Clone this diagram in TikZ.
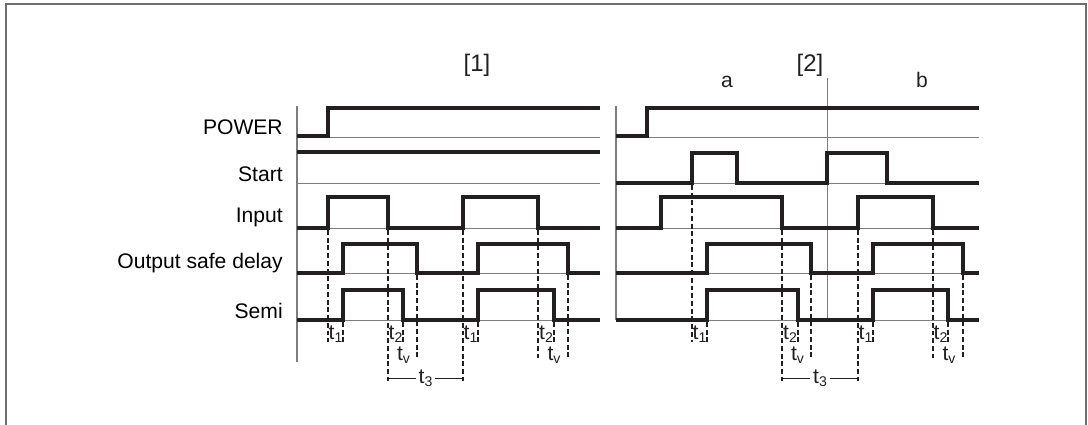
\documentclass[tikz,border=0pt]{standalone}
\usepackage{fontspec}
\setmainfont{Liberation Sans}
\definecolor{sigblack}{RGB}{35,31,32}
\definecolor{gridgray}{RGB}{125,125,125}
\definecolor{framegray}{RGB}{110,110,110}
\usetikzlibrary{calc}

\newcommand{\tlab}[1]{t\raisebox{-0.3ex}{\fontsize{10}{10}\selectfont #1}}

\begin{document}
\begin{tikzpicture}[x=0.025cm, y=-0.025cm,
    sig/.style={line width=2.4pt, sigblack},
    base/.style={line width=0.7pt, gridgray},
    axis/.style={line width=1pt, gridgray},
    guide/.style={line width=0.8pt, sigblack, dash pattern=on 3.5pt off 2pt},
    lab/.style={font=\fontsize{15}{18}\selectfont, anchor=base east, inner sep=0pt},
    tlabel/.style={font=\fontsize{15}{15}\selectfont, inner sep=0pt, text=sigblack},
  ]
    \useasboundingbox (0,0) rectangle (1088,425);
    \draw[framegray, line width=1.1pt] (6,425) -- (6,4) -- (1086,4) -- (1086,425);

    % signal names
    \node[lab] (power) at (283,135) {POWER};
    \node[lab] (start) at (283,182) {Start};
    \node[lab] (input) at (283,223) {Input};
    \node[lab] (output) at (283,269) {Output safe delay};
    \node[lab] (semi) at (283,319) {Semi};

    \node[font=\fontsize{17}{20}\selectfont, text=sigblack] (case1) at (477,65) {[1]};
    \node[font=\fontsize{17}{20}\selectfont, text=sigblack] (case2) at (810,65) {[2]};
    \node[font=\fontsize{15}{18}\selectfont, anchor=base, text=sigblack] (parta) at (727,88) {a};
    \node[font=\fontsize{15}{18}\selectfont, anchor=base, text=sigblack] (partb) at (922,88) {b};

    % axes and reference levels
    \draw[axis] (297,106) -- (297,362);
    \draw[axis] (616,106) -- (616,320);
    \draw[base] (827,78) -- (827,320);
    \foreach \y in {137,183,228,273,320} {
      \draw[base] (297,\y) -- (600,\y);
      \draw[base] (616,\y) -- (979,\y);
    }

    % [1]
    \draw[sig] (297,136) -- (328,136) |- (600,108);
    \draw[sig] (297,152) -- (600,152);
    \draw[sig] (297,228) -- (328,228) |- (388,197) |- (463,228) |- (538,197) |- (600,228);
    \draw[sig] (297,273) -- (343,273) |- (417,244) |- (478,273) |- (568,244) |- (600,273);
    \draw[sig] (297,320) -- (343,320) |- (403,290) |- (478,320) |- (554,290) |- (600,320);

    % [2]
    \draw[sig] (616,136) -- (647,136) |- (979,108);
    \draw[sig] (616,183) -- (692,183) |- (737,153) |- (827,183) |- (887,153) |- (979,183);
    \draw[sig] (616,228) -- (661,228) |- (782,197) |- (858,228) |- (933,197) |- (979,228);
    \draw[sig] (616,273) -- (707,273) |- (811,244) |- (873,273) |- (963,244) |- (979,273);
    \draw[sig] (616,320) -- (707,320) |- (798,290) |- (873,320) |- (948,290) |- (979,320);

    % timing guides
    \foreach \x/\ya/\yb in {328/230/342, 343/322/342, 388/230/381, 403/322/342, 417/275/358,
                            463/230/381, 478/322/342, 538/230/358, 554/322/342, 568/275/358,
                            692/185/342, 707/322/342, 782/230/381, 798/322/342, 811/275/358,
                            858/230/381, 873/322/342, 933/230/358, 948/322/342, 963/275/358}
      \draw[guide] (\x,\ya) -- (\x,\yb);

    \foreach \xa/\xb/\n in {328/343/a, 463/478/b, 692/707/c, 858/873/d}
      \node[tlabel] (t1\n) at ({(\xa+\xb)/2},334) {\tlab{1}};
    \foreach \xa/\xb/\xe/\n in {388/403/417/a, 538/554/568/b, 782/798/811/c, 933/948/963/d} {
      \node[tlabel] (t2\n) at ({(\xa+\xb)/2},334) {\tlab{2}};
      \node[tlabel] (tv\n) at ({(\xa+\xe)/2+1},355) {\tlab{v}};
    }

    \node[tlabel] (t3a) at (425.5,378) {\tlab{3}};
    \draw[sigblack, line width=0.7pt] (388,378) -- ([xshift=-2pt]t3a.west) ([xshift=2pt]t3a.east) -- (463,378);
    \node[tlabel] (t3b) at (820,378) {\tlab{3}};
    \draw[sigblack, line width=0.7pt] (782,378) -- ([xshift=-2pt]t3b.west) ([xshift=2pt]t3b.east) -- (858,378);
\end{tikzpicture}
\end{document}
